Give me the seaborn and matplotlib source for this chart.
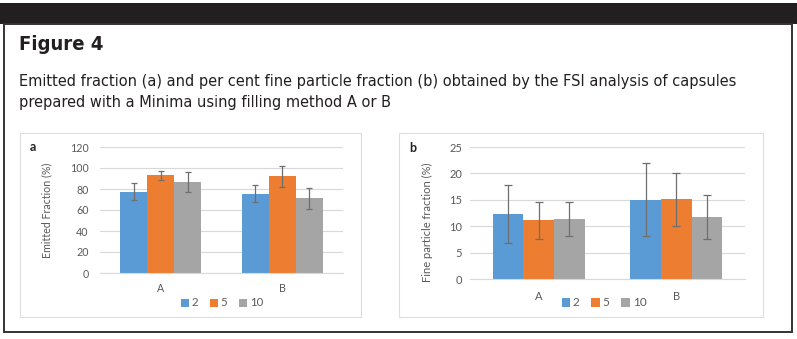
import matplotlib
matplotlib.use("Agg")
import matplotlib.pyplot as plt
from matplotlib.patches import Rectangle
from matplotlib import font_manager as fm
import numpy as np
import pandas as pd
import seaborn as sns

# ---------------- data ----------------
categories = ["A", "B"]
series = ["2", "5", "10"]

# panel a: emitted fraction (%)
ef_2 = [77.5, 75.5]
ef_5 = [93.0, 92.0]
ef_10 = [87.0, 71.0]
ef_2_err = [8.0, 8.0]
ef_5_err = [4.5, 10.0]
ef_10_err = [9.5, 10.0]

# panel b: fine particle fraction (%)
fpf_2 = [12.3, 15.0]
fpf_5 = [11.1, 15.1]
fpf_10 = [11.4, 11.8]
fpf_2_err = [5.5, 6.9]
fpf_5_err = [3.5, 5.0]
fpf_10_err = [3.2, 4.2]

yticks_a = [0, 20, 40, 60, 80, 100, 120]
yticks_b = [0, 5, 10, 15, 20, 25]

title = "Figure 4"
caption = ["Emitted fraction (a) and per cent fine particle fraction (b) obtained by the FSI analysis of capsules",
           "prepared with a Minima using filling method A or B"]
ylabel_a = "Emitted Fraction (%)"
ylabel_b = "Fine particle fraction (%)"

colors = ["#5B9BD5", "#ED7D31", "#A5A5A5"]
TXT = "#595959"

sns.set_theme(style="white")
plt.rcParams["font.family"] = ["Lato", "DejaVu Sans"]

W, H = 797, 339
fig = plt.figure(figsize=(W / 100, H / 100), dpi=100)
fig.patch.set_facecolor("white")


def fx(x):
    return x / W


def fy(y):
    return 1 - y / H


# frame
fig.patches.append(Rectangle((0, fy(24)), 1, fy(3) - fy(24), transform=fig.transFigure,
                             facecolor="#231F20", edgecolor="none", zorder=0))
fig.patches.append(Rectangle((fx(3.5), fy(332)), fx(792) - fx(3.5), fy(24) - fy(332),
                             transform=fig.transFigure, fill=False, edgecolor="#333333",
                             lw=1.4, zorder=0))
for (x0, y0, x1, y1) in [(20, 133, 361, 317), (399, 133, 763, 317)]:
    fig.patches.append(Rectangle((fx(x0), fy(y1)), fx(x1) - fx(x0), fy(y0) - fy(y1),
                                 transform=fig.transFigure, fill=False, edgecolor="#DDDDDD",
                                 lw=0.8, zorder=0))

# pick a condensed face if one is installed
cond_props = None
for fam in ["Liberation Sans Narrow", "DejaVu Sans"]:
    fp = fm.FontProperties(family=fam, stretch="condensed")
    try:
        path = fm.findfont(fp, fallback_to_default=False)
    except Exception:
        continue
    if "Narrow" in path or "Condensed" in path:
        cond_props = (fam, "condensed")
        break

if cond_props is not None:
    tfam = [cond_props[0], "DejaVu Sans"]
    tstretch = "condensed"
    cap_fs = 11.7
    title_fs = 14.5
else:
    tfam = ["Liberation Sans", "DejaVu Sans"]
    tstretch = "normal"
    cap_fs = 11.5
    title_fs = 15

fig.text(fx(19), fy(50), title, fontsize=title_fs, fontweight="bold", family=tfam,
         fontstretch=tstretch, color="#231F20", va="baseline", ha="left")
fig.text(fx(19), fy(86), caption[0], fontsize=cap_fs, family=tfam, fontstretch=tstretch,
         color="#231F20", va="baseline", ha="left")
fig.text(fx(19), fy(107), caption[1], fontsize=cap_fs, family=tfam, fontstretch=tstretch,
         color="#231F20", va="baseline", ha="left")


def make_df(v2, v5, v10):
    rows = []
    for s, vals in zip(series, [v2, v5, v10]):
        for c, v in zip(categories, vals):
            rows.append({"method": c, "n": s, "value": v})
    return pd.DataFrame(rows)


def panel(box, df, errs, ylim, yticks, ylabel, fs, xpad, ypad, ylab_xy, leg_xy,
          letter, letter_xy, capsize):
    l, t, r, b = box
    ax = fig.add_axes([fx(l), fy(b), fx(r) - fx(l), fy(t) - fy(b)])
    sns.barplot(data=df, x="method", y="value", hue="n", order=categories,
                hue_order=series, palette=colors, width=0.667, errorbar=None,
                saturation=1, legend=False, linewidth=0, ax=ax)
    bars = [c for c in ax.containers][:3]
    for cont, err in zip(bars, errs):
        xs, ys, es = [], [], []
        for p in cont.patches:
            xc = p.get_x() + p.get_width() / 2
            idx = int(round(xc))
            xs.append(xc)
            ys.append(p.get_height())
            es.append(err[idx])
        ax.errorbar(xs, ys, yerr=es, fmt="none", ecolor="#6E6E6E", elinewidth=0.9,
                    capsize=capsize, capthick=0.9, zorder=3)
    ax.set_xlim(-0.5, 1.5)
    ax.set_ylim(*ylim)
    ax.set_yticks(yticks)
    ax.yaxis.grid(True, color="#D9D9D9", lw=0.8)
    ax.set_axisbelow(True)
    for s in ["left", "right", "top"]:
        ax.spines[s].set_visible(False)
    ax.spines["bottom"].set_color("#D9D9D9")
    ax.spines["bottom"].set_linewidth(0.8)
    ax.tick_params(axis="both", length=0, labelsize=fs, labelcolor=TXT)
    ax.tick_params(axis="x", pad=xpad)
    ax.tick_params(axis="y", pad=ypad)
    ax.set_xlabel("")
    ax.set_ylabel(ylabel, fontsize=fs, color=TXT)
    ax.yaxis.set_label_coords(*ylab_xy)
    ax.legend(handles=bars, labels=series, loc="center",
              bbox_to_anchor=(fx(leg_xy[0]), fy(leg_xy[1])), bbox_transform=fig.transFigure,
              ncol=3, frameon=False, fontsize=fs + 0.5, handlelength=0.7, handleheight=0.7,
              handletextpad=0.25, columnspacing=1.0, labelcolor=TXT, borderpad=0)
    fig.text(fx(letter_xy[0]), fy(letter_xy[1]), letter, fontsize=9, fontweight="bold",
             color="#222222", ha="center", va="center")
    return ax


df_a = make_df(ef_2, ef_5, ef_10)
df_b = make_df(fpf_2, fpf_5, fpf_10)

panel((100, 147, 343, 273), df_a, [ef_2_err, ef_5_err, ef_10_err], (0, 120), yticks_a,
      ylabel_a, 7.7, 7.5, 8.0, (-0.1975, 0.5), (222, 303), "a", (33, 147), 2.0)
panel((470, 147, 745, 279), df_b, [fpf_2_err, fpf_5_err, fpf_10_err], (0, 25), yticks_b,
      ylabel_b, 8, 9, 5.8, (-0.1345, 0.43), (604, 303), "b", (413, 148), 3.0)

fig.savefig("out.png", dpi=100)
